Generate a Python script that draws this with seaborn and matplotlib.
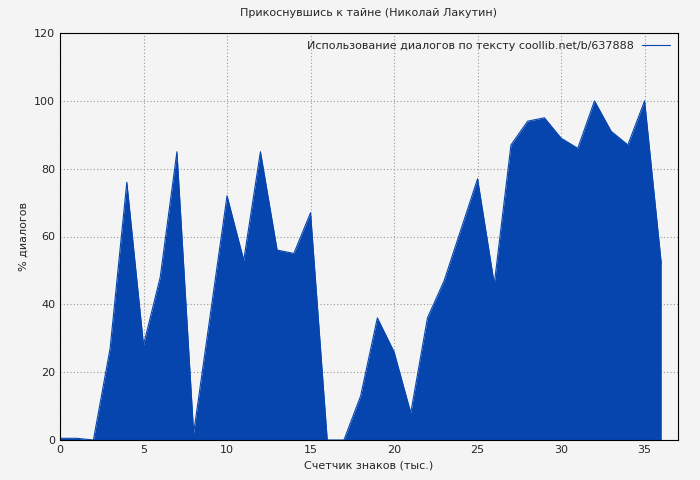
import matplotlib
matplotlib.use("Agg")
import matplotlib.pyplot as plt
import seaborn as sns
import pandas as pd

# Данные
x_vals = list(range(37))
y_vals = [0.5, 0.5, 0, 27, 76, 28, 48, 85, 2, 37, 72, 53, 85, 56, 55, 67, 0, 0,
          13, 36, 26, 8, 36, 47, 62, 77, 46, 87, 94, 95, 89, 86, 100, 91, 87, 100, 52]

sns.set_style("white")
plt.rcParams['font.family'] = ['DejaVu Sans']
plt.rcParams['font.size'] = 8

df = pd.DataFrame({"x": x_vals, "y": y_vals})
color = "#0645ad"

fig = plt.figure(figsize=(7, 4.8), dpi=100, facecolor="#f4f4f4")
ax = fig.add_axes([60/700, 40/480, 618/700, 407/480])
ax.set_facecolor("#f4f4f4")

sns.lineplot(data=df, x="x", y="y", color=color, linewidth=0.8, ax=ax,
             label="Использование диалогов по тексту coollib.net/b/637888")
ax.fill_between(df["x"], df["y"], color=color, linewidth=0)
for line in ax.get_legend().get_lines():
    line.set_linewidth(5)

ax.set_xlim(0, 37)
ax.set_ylim(0, 120)
ax.set_xticks(range(0, 36, 5))
ax.set_yticks(range(0, 121, 20))
ax.grid(True, color="#999999", linestyle=(0, (1, 2)), linewidth=0.8)
for s in ax.spines.values():
    s.set_color("black")
    s.set_linewidth(0.8)
ax.tick_params(direction="in", length=4, labelsize=8)
ax.set_xlabel("Счетчик знаков (тыс.)", fontsize=8)
ax.set_ylabel("% диалогов", fontsize=8)
ax.set_title("Прикоснувшись к тайне (Николай Лакутин)", fontsize=8, pad=12)
ax.legend(loc="upper right", frameon=False, fontsize=8, markerfirst=False,
          handlelength=2.5, borderaxespad=0.3)

fig.savefig("out.png", dpi=100, facecolor=fig.get_facecolor())
